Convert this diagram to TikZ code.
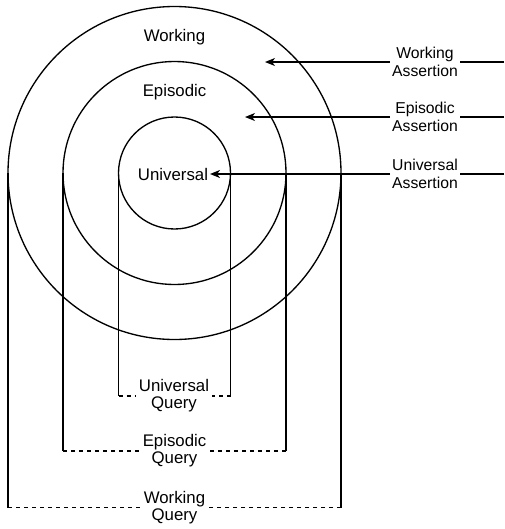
\documentclass[tikz,border=0pt]{standalone}
\usepackage{fontspec}
\setmainfont{Liberation Sans}
\usetikzlibrary{arrows.meta}

\begin{document}
\begin{tikzpicture}[x=0.75pt,y=-0.75pt,line width=1pt,
  ring/.style={draw,circle,inner sep=0pt,outer sep=0pt},
  lbl/.style={font=\fontsize{12.6}{13}\selectfont,inner sep=1pt},
  side/.style={font=\fontsize{11.8}{13.2}\selectfont,align=center,inner sep=1pt},
  qry/.style={font=\fontsize{12.6}{12.75}\selectfont,align=center,inner sep=2pt},
  tip/.style={-{Stealth[length=7.5pt,width=6pt,inset=2.2pt]}},
  qline/.style={dash pattern=on 3pt off 3pt}]
  \useasboundingbox (0,0) rectangle (504,529);

  % Add circles
  \coordinate (c) at (174.5,173);
  \node[ring,minimum size=249.75pt] (working) at (c) {};
  \node[ring,minimum size=167.25pt] (episodic) at (c) {};
  \node[ring,minimum size=84pt] (universal) at (c) {};

  % Add circle labels
  \node[lbl,anchor=base] (wTxt) at (174.5,41.5) {Working};
  \node[lbl,anchor=base] (eTxt) at (174.5,96) {Episodic};
  \node[lbl] (uTxt) at (173,174) {Universal};

  % Add assertions
  \node[side] (wa) at (425,62) {Working\\Assertion};
  \node[side] (ea) at (425,117) {Episodic\\Assertion};
  \node[side] (ua) at (425,174) {Universal\\Assertion};

  \coordinate (waEnd) at (504,62);
  \coordinate (eaEnd) at (504,117);
  \coordinate (uaEnd) at (504,174);
  \coordinate (waTip) at (265,62);
  \coordinate (eaTip) at (245,117);

  \draw (waEnd) -- (wa.east);
  \draw (eaEnd) -- (ea.east);
  \draw (uaEnd) -- (ua.east);
  \draw[tip] (wa.west) -- (waTip);
  \draw[tip] (ea.west) -- (eaTip);
  \draw[tip] (ua.west) -- (uTxt.east);

  % Add queries
  \node[qry] (uq) at (174,396) {Universal\\Query};
  \node[qry] (eq) at (174.5,451) {Episodic\\Query};
  \node[qry] (wq) at (174.5,507.5) {Working\\Query};

  \draw (universal.west) -- (universal.west |- uq) coordinate (uqL);
  \draw (universal.east) -- (universal.east |- uq) coordinate (uqR);
  \draw[qline] (uqL) -- (uq.west);
  \draw[qline] (uqR) -- (uq.east);

  \draw (episodic.west) -- (episodic.west |- eq) coordinate (eqL);
  \draw (episodic.east) -- (episodic.east |- eq) coordinate (eqR);
  \draw[qline] (eqL) -- (eq.west);
  \draw[qline] (eqR) -- (eq.east);

  \draw (working.west) -- (working.west |- wq) coordinate (wqL);
  \draw (working.east) -- (working.east |- wq) coordinate (wqR);
  \draw[qline] (wqL) -- (wq.west);
  \draw[qline] (wqR) -- (wq.east);

\end{tikzpicture}
\end{document}
